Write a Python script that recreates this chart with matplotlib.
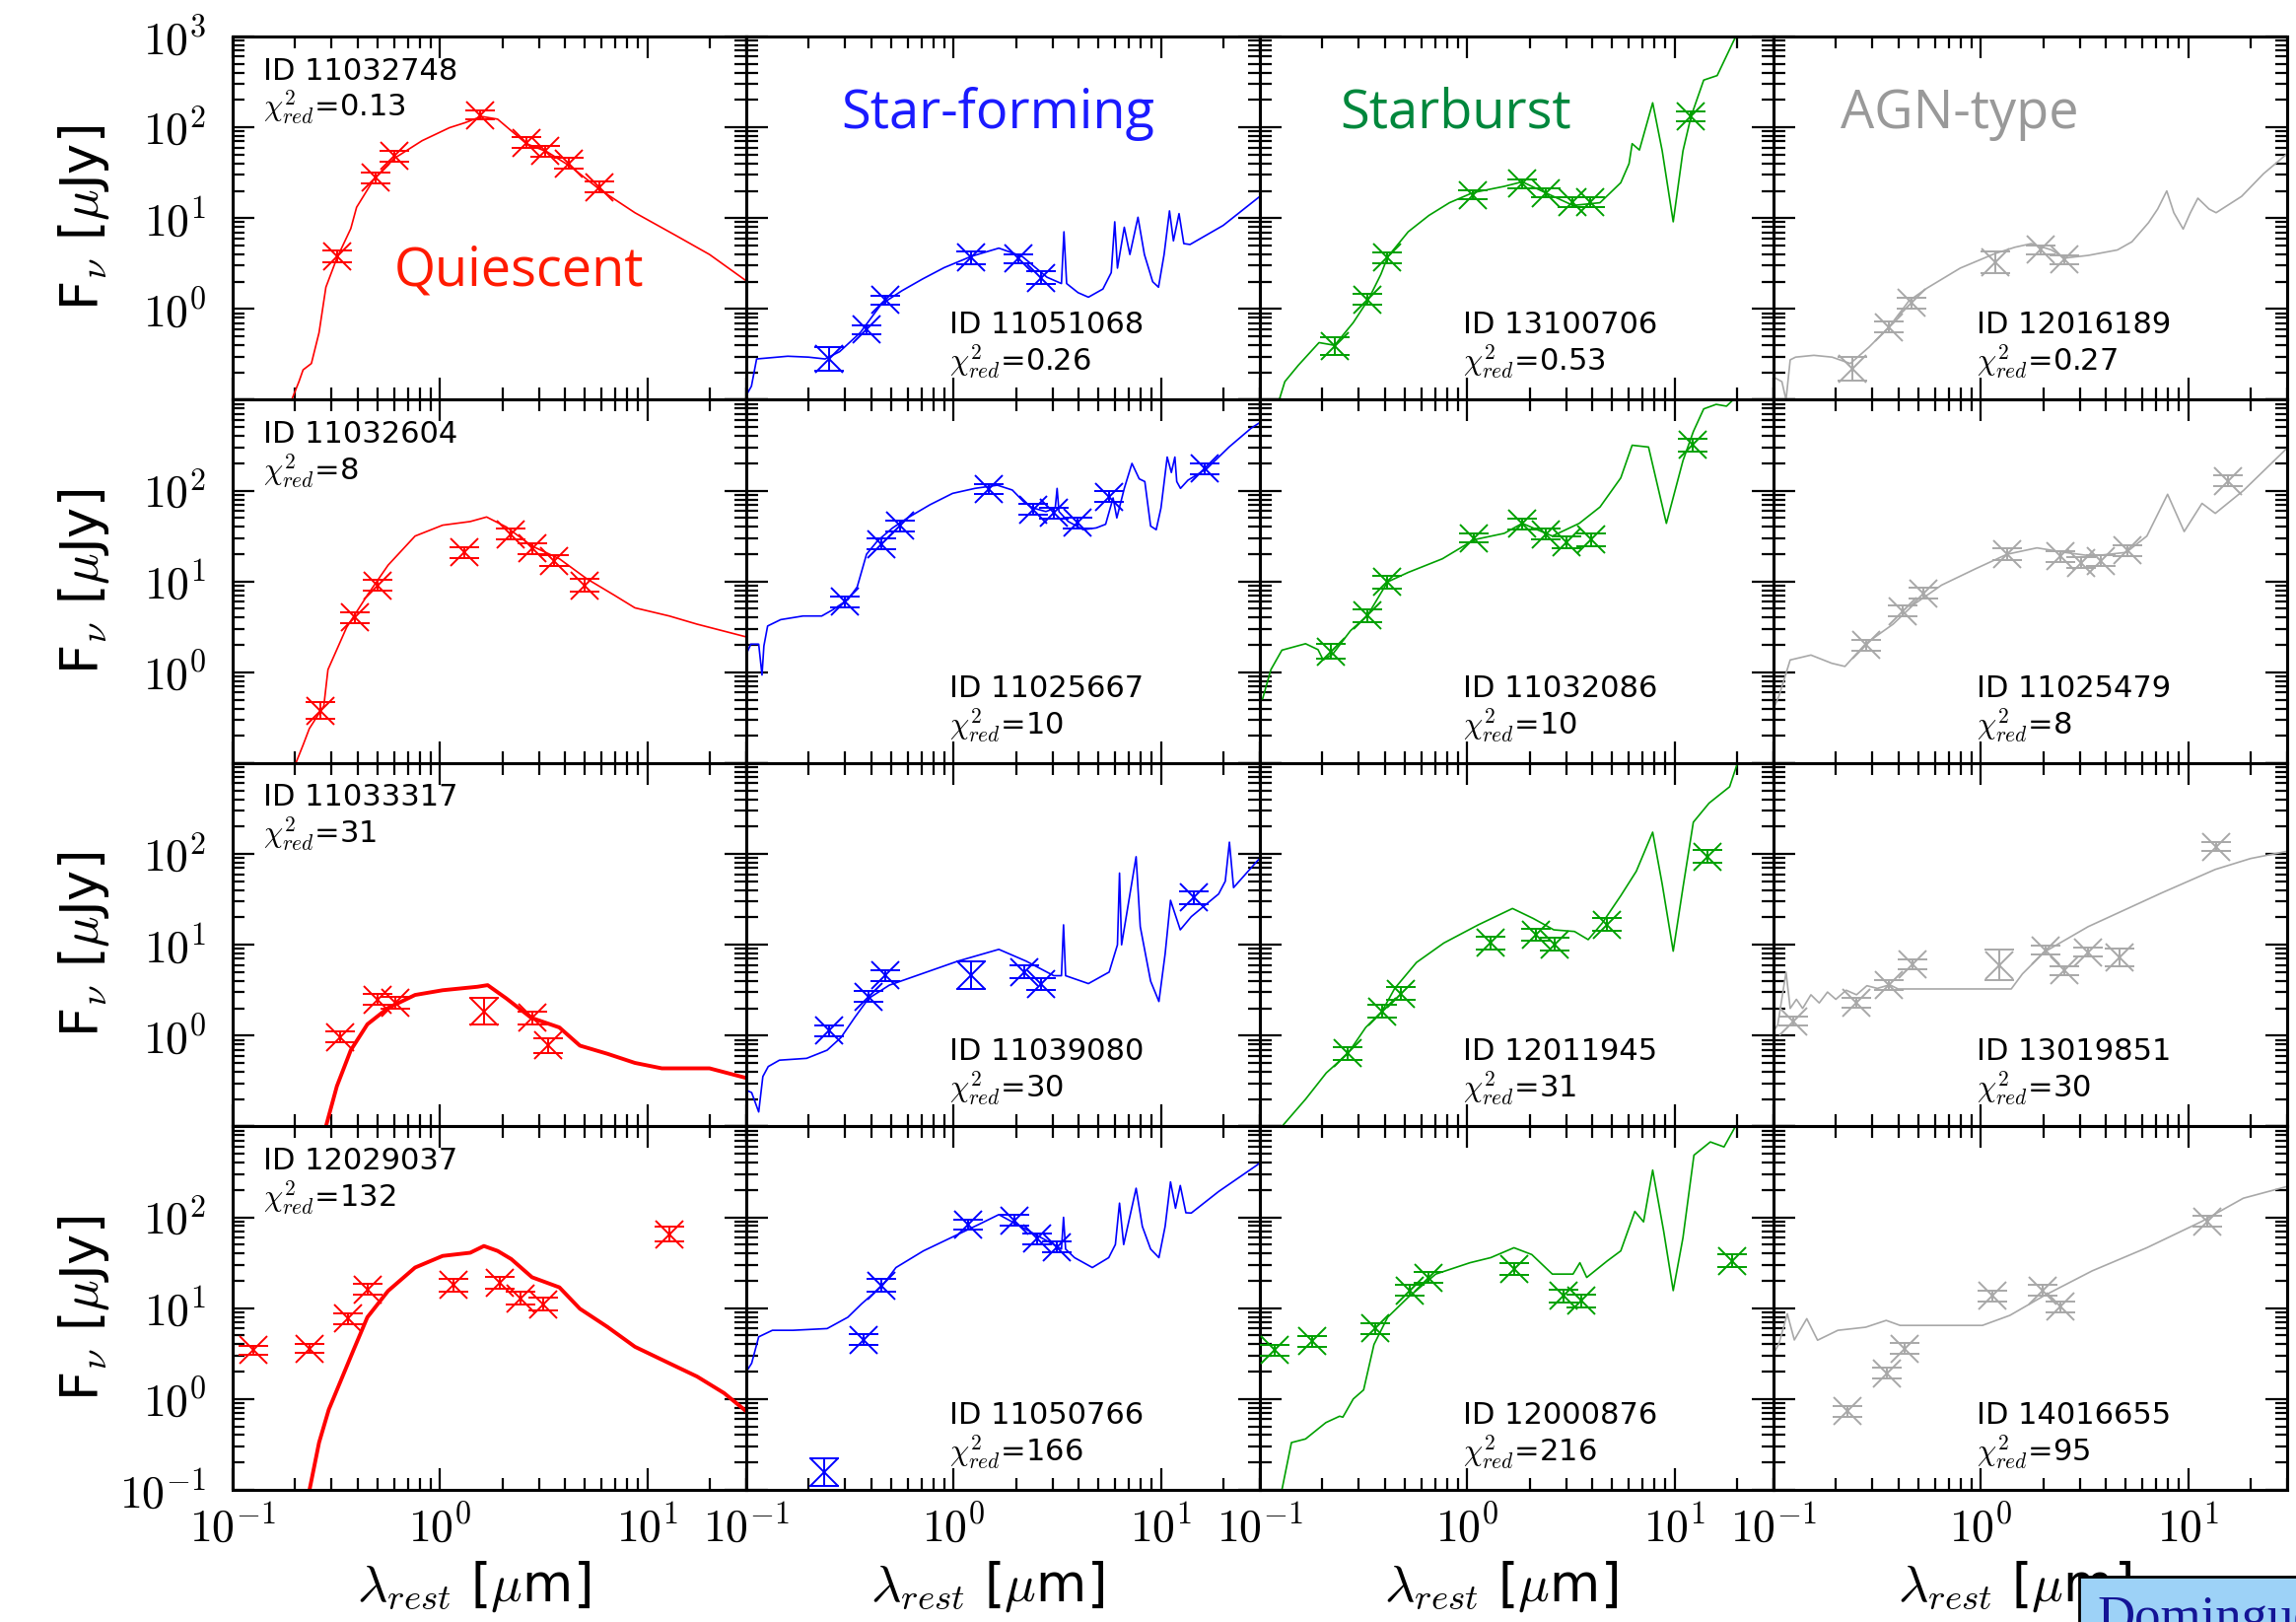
#!/usr/bin/env python3
"""
4x4 grid of template SED fits (quiescent / star-forming / starburst / AGN-type).
"""

import matplotlib
matplotlib.use("Agg")
import matplotlib.pyplot as plt
import numpy as np
from matplotlib.ticker import FixedLocator, FuncFormatter

plt.rcParams["font.family"] = ["DejaVu Sans"]
plt.rcParams["mathtext.fontset"] = "cm"

# ---------------------------------------------------------------------------
# Data. Model curves are (log10 lambda [um], log10 F [uJy])
# pairs; photometry is lambda [um], F [uJy] and error in dex.
# ---------------------------------------------------------------------------

# Row 1
q1_model = [(-0.715, -1.0), (-0.68, -0.8), (-0.66, -0.67), (-0.62, -0.6), (-0.583, -0.26),
            (-0.55, 0.24), (-0.497, 0.56), (-0.43, 0.885), (-0.402, 1.12), (-0.318, 1.43),
            (-0.219, 1.66), (-0.086, 1.853), (0.046, 1.996), (0.12, 2.05), (0.2, 2.12),
            (0.278, 2.09), (0.417, 1.82), (0.517, 1.73), (0.629, 1.57), (0.768, 1.32),
            (0.94, 1.06), (1.137, 0.81), (1.30, 0.6), (1.477, 0.31)]
q1_lam = [0.32, 0.49, 0.60, 1.57, 2.6, 3.2, 4.2, 5.9]
q1_flux = [3.8, 28, 48, 137, 68, 55, 40, 22]
q1_err = [0.07, 0.06, 0.06, 0.05, 0.06, 0.06, 0.06, 0.06]

sf1_model = [(-1.0, -0.95), (-0.975, -0.85), (-0.95, -0.55), (-0.9, -0.54), (-0.8, -0.52),
             (-0.7, -0.53), (-0.62, -0.55), (-0.55, -0.47), (-0.45, -0.26), (-0.35, 0.05),
             (-0.25, 0.2), (-0.15, 0.33), (-0.046, 0.455), (0.086, 0.58), (0.218, 0.67),
             (0.33, 0.58), (0.45, 0.35), (0.52, 0.28), (0.532, 0.85), (0.545, 0.28),
             (0.6, 0.18), (0.65, 0.13), (0.72, 0.22), (0.76, 0.4), (0.777, 0.96), (0.79, 0.45),
             (0.823, 0.9), (0.85, 0.6), (0.889, 1.01), (0.92, 0.6), (0.96, 0.3), (0.988, 0.24),
             (1.015, 0.6), (1.041, 1.08), (1.06, 0.75), (1.087, 1.05), (1.11, 0.72),
             (1.14, 0.71), (1.3, 0.92), (1.477, 1.24)]
sf1_lam = [0.25, 0.38, 0.47, 1.22, 2.05, 2.65]
sf1_flux = [0.28, 0.59, 1.25, 3.66, 3.6, 2.2]
sf1_err = [0.13, 0.05, 0.05, 0.07, 0.05, 0.07]

sb1_model = [(-0.907, -1.0), (-0.88, -0.8), (-0.815, -0.62), (-0.715, -0.37), (-0.64, -0.40),
             (-0.55, -0.15), (-0.477, 0.104), (-0.417, 0.38), (-0.384, 0.573), (-0.285, 0.85),
             (-0.185, 1.03), (-0.086, 1.17), (0.026, 1.28), (0.178, 1.35), (0.265, 1.40),
             (0.377, 1.28), (0.51, 1.14), (0.64, 1.17), (0.74, 1.39), (0.78, 1.6), (0.795, 1.82),
             (0.83, 1.75), (0.894, 2.27), (0.94, 1.74), (0.993, 0.96), (1.04, 1.74),
             (1.079, 2.12), (1.14, 2.52), (1.205, 2.57), (1.305, 3.05)]
sb1_lam = [0.23, 0.33, 0.41, 1.06, 1.84, 2.4, 3.2, 3.9, 12.0]
sb1_flux = [0.39, 1.27, 3.7, 18, 24, 19, 15, 15, 132]
sb1_err = [0.1, 0.06, 0.06, 0.05, 0.05, 0.05, 0.05, 0.05, 0.05]

agn1_model = [(-1.0, -0.75), (-0.96, -0.8), (-0.94, -1.0), (-0.92, -0.56), (-0.894, -0.53),
              (-0.806, -0.51), (-0.718, -0.53), (-0.63, -0.6), (-0.54, -0.42), (-0.444, -0.2),
              (-0.347, 0.09), (-0.26, 0.23), (-0.1, 0.45), (0.067, 0.61), (0.164, 0.68),
              (0.243, 0.72), (0.34, 0.65), (0.402, 0.56), (0.517, 0.59), (0.658, 0.65),
              (0.728, 0.74), (0.808, 0.95), (0.852, 1.1), (0.896, 1.3), (0.93, 1.06),
              (0.975, 0.88), (1.01, 1.06), (1.046, 1.22), (1.1, 1.1), (1.134, 1.06),
              (1.257, 1.24), (1.363, 1.49), (1.477, 1.71)]
agn1_lam = [0.24, 0.36, 0.46, 1.17, 1.94, 2.52]
agn1_flux = [0.22, 0.63, 1.17, 3.3, 4.5, 3.5]
agn1_err = [0.13, 0.06, 0.06, 0.12, 0.05, 0.05]

# Row 2
q2_model = [(-0.695, -1.0), (-0.66, -0.8), (-0.63, -0.62), (-0.56, -0.37), (-0.54, 0.03),
            (-0.45, 0.495), (-0.35, 0.85), (-0.25, 1.18), (-0.12, 1.5), (0.013, 1.62),
            (0.146, 1.66), (0.225, 1.71), (0.32, 1.6), (0.444, 1.39), (0.576, 1.25),
            (0.708, 1.03), (0.84, 0.85), (0.94, 0.71), (1.106, 0.62), (1.24, 0.53),
            (1.477, 0.39)]
q2_lam = [0.265, 0.39, 0.50, 1.31, 2.2, 2.78, 3.55, 4.96]
q2_flux = [0.38, 4.0, 9.1, 21, 33, 23, 17, 9.1]
q2_err = [0.09, 0.06, 0.06, 0.06, 0.06, 0.06, 0.06, 0.07]

sf2_model = [(-1.0, 0.2), (-0.978, 0.31), (-0.94, 0.31), (-0.924, -0.03), (-0.915, 0.29),
             (-0.897, 0.51), (-0.834, 0.58), (-0.726, 0.62), (-0.636, 0.62), (-0.582, 0.69),
             (-0.51, 0.8), (-0.465, 0.94), (-0.42, 1.3), (-0.366, 1.45), (-0.294, 1.59),
             (-0.222, 1.7), (-0.114, 1.845), (-0.005, 1.97), (0.103, 2.025), (0.211, 2.06),
             (0.283, 2.007), (0.337, 1.88), (0.382, 1.81), (0.445, 1.77), (0.49, 1.81),
             (0.499, 2.025), (0.508, 1.77), (0.553, 1.66), (0.625, 1.57), (0.688, 1.59),
             (0.733, 1.63), (0.769, 1.92), (0.787, 1.7), (0.823, 2.025), (0.86, 2.3),
             (0.895, 2.13), (0.922, 2.1), (0.95, 1.61), (0.977, 1.57), (1.0, 1.81),
             (1.03, 2.37), (1.05, 2.2), (1.067, 2.37), (1.076, 2.1), (1.094, 2.025),
             (1.13, 2.115), (1.22, 2.24), (1.328, 2.48), (1.436, 2.69), (1.477, 2.75)]
sf2_lam = [0.30, 0.45, 0.55, 1.47, 2.41, 3.03, 3.96, 5.64, 16.2]
sf2_flux = [6.0, 25.7, 41, 104, 62, 57, 44, 86, 174]
sf2_err = [0.06, 0.06, 0.06, 0.05, 0.06, 0.06, 0.06, 0.06, 0.06]

sb2_model = [(-1.0, -0.3), (-0.987, -0.29), (-0.947, 0.03), (-0.894, 0.244), (-0.78, 0.315),
             (-0.72, 0.25), (-0.695, 0.136), (-0.649, 0.2), (-0.563, 0.459), (-0.483, 0.62),
             (-0.384, 0.996), (-0.285, 1.1), (-0.12, 1.25), (0.033, 1.46), (0.178, 1.53),
             (0.265, 1.64), (0.41, 1.5), (0.54, 1.64), (0.64, 1.82), (0.74, 2.14),
             (0.795, 2.5), (0.874, 2.48), (0.96, 1.64), (1.04, 2.33), (1.09, 2.65),
             (1.14, 2.9), (1.2, 2.95), (1.25, 2.93), (1.305, 3.05)]
sb2_lam = [0.22, 0.33, 0.41, 1.08, 1.84, 2.38, 3.0, 3.95, 12.2]
sb2_flux = [1.7, 4.2, 9.9, 30, 43, 33, 27, 29, 318]
sb2_err = [0.08, 0.07, 0.07, 0.05, 0.06, 0.06, 0.06, 0.07, 0.07]

agn2_model = [(-1.0, -0.4), (-0.974, -0.26), (-0.92, 0.136), (-0.82, 0.19), (-0.72, 0.1),
              (-0.656, 0.065), (-0.556, 0.315), (-0.424, 0.53), (-0.325, 0.745),
              (-0.19, 0.96), (-0.026, 1.14), (0.126, 1.30), (0.27, 1.37), (0.404, 1.32),
              (0.536, 1.28), (0.7, 1.32), (0.8, 1.5), (0.9, 1.96), (0.98, 1.55),
              (1.066, 1.86), (1.13, 1.75), (1.265, 2.0), (1.477, 2.47)]
agn2_lam = [0.28, 0.42, 0.53, 1.34, 2.42, 3.04, 3.77, 5.1, 15.6]
agn2_flux = [2.0, 4.7, 7.4, 20, 19, 16, 17, 22, 128]
agn2_err = [0.06, 0.06, 0.06, 0.06, 0.06, 0.06, 0.06, 0.06, 0.06]

# Row 3
q3_model = [(-0.55, -1.0), (-0.497, -0.556), (-0.43, -0.16), (-0.35, 0.125), (-0.25, 0.305),
            (-0.12, 0.448), (0.013, 0.5), (0.18, 0.538), (0.23, 0.556), (0.32, 0.41),
            (0.44, 0.197), (0.576, 0.09), (0.675, -0.11), (0.808, -0.2), (0.94, -0.3),
            (1.07, -0.36), (1.3, -0.36), (1.477, -0.466)]
q3_lam = [0.33, 0.5, 0.61, 1.63, 2.78, 3.34]
q3_flux = [0.97, 2.5, 2.3, 1.86, 1.57, 0.78]
q3_err = [0.06, 0.06, 0.06, 0.15, 0.07, 0.08]

sf3_model = [(-1.0, -0.6), (-0.974, -0.627), (-0.94, -0.84), (-0.92, -0.45), (-0.894, -0.34),
             (-0.84, -0.27), (-0.709, -0.25), (-0.61, -0.16), (-0.543, -0.02), (-0.477, 0.2),
             (-0.41, 0.41), (-0.31, 0.556), (-0.18, 0.66), (0.02, 0.82), (0.218, 0.95),
             (0.35, 0.82), (0.483, 0.66), (0.52, 0.66), (0.53, 1.22), (0.54, 0.66),
             (0.65, 0.573), (0.75, 0.7), (0.79, 1.0), (0.8, 1.79), (0.81, 1.0), (0.88, 1.97),
             (0.9, 1.2), (0.95, 0.6), (0.99, 0.376), (1.02, 0.9), (1.046, 1.49),
             (1.093, 1.165), (1.146, 1.31), (1.278, 1.56), (1.31, 1.7), (1.33, 2.13),
             (1.35, 1.63), (1.463, 1.92), (1.477, 1.95)]
sf3_lam = [0.25, 0.39, 0.47, 1.22, 2.18, 2.65, 14.4]
sf3_flux = [1.13, 2.7, 4.6, 4.6, 5.0, 3.7, 33]
sf3_err = [0.06, 0.06, 0.06, 0.15, 0.07, 0.07, 0.07]

sb3_model = [(-0.894, -1.0), (-0.78, -0.7), (-0.68, -0.41), (-0.576, -0.197), (-0.49, 0.09),
             (-0.411, 0.269), (-0.35, 0.52), (-0.245, 0.806), (-0.113, 1.02), (0.053, 1.22),
             (0.218, 1.4), (0.318, 1.29), (0.417, 1.165), (0.517, 1.147), (0.583, 1.057),
             (0.65, 1.237), (0.74, 1.54), (0.815, 1.81), (0.894, 2.24), (0.94, 1.667),
             (0.993, 0.93), (1.04, 1.63), (1.09, 2.35), (1.166, 2.56), (1.265, 2.74),
             (1.31, 3.05)]
sb3_lam = [0.265, 0.39, 0.48, 1.3, 2.14, 2.65, 4.73, 14.4]
sb3_flux = [0.64, 1.86, 2.9, 10.5, 12.9, 10.1, 16.6, 94]
sb3_err = [0.07, 0.07, 0.07, 0.07, 0.07, 0.07, 0.07, 0.07]

agn3_model = [(-1.0, 0.05), (-0.98, 0.12), (-0.94, 0.7), (-0.92, 0.3), (-0.89, 0.4),
              (-0.86, 0.3), (-0.82, 0.45), (-0.78, 0.36), (-0.74, 0.48), (-0.7, 0.4),
              (-0.65, 0.5), (-0.6, 0.45), (-0.55, 0.55), (-0.5, 0.52), (-0.44, 0.56),
              (-0.4, 0.514), (0.146, 0.514), (0.2, 0.68), (0.305, 0.92), (0.517, 1.2),
              (0.87, 1.57), (1.13, 1.83), (1.3, 1.95), (1.477, 2.03)]
agn3_lam = [0.125, 0.25, 0.36, 0.47, 1.22, 2.06, 2.52, 3.29, 4.65, 13.6]
agn3_flux = [1.44, 2.3, 3.6, 6.1, 6.0, 8.7, 5.2, 8.3, 7.3, 120]
agn3_err = [0.05, 0.05, 0.05, 0.05, 0.17, 0.05, 0.05, 0.05, 0.1, 0.05]

# Row 4
q4_model = [(-0.629, -1.0), (-0.583, -0.48), (-0.536, -0.116), (-0.483, 0.175),
            (-0.417, 0.538), (-0.35, 0.9), (-0.25, 1.19), (-0.12, 1.447), (0.013, 1.575),
            (0.146, 1.61), (0.212, 1.684), (0.278, 1.63), (0.344, 1.54), (0.444, 1.34),
            (0.576, 1.229), (0.675, 0.993), (0.808, 0.793), (0.94, 0.575), (1.106, 0.393),
            (1.24, 0.247), (1.37, 0.065), (1.477, -0.135)]
q4_lam = [0.126, 0.235, 0.36, 0.45, 1.16, 1.95, 2.45, 3.14, 12.8]
q4_flux = [3.45, 3.6, 7.7, 16, 18, 19, 12.9, 11.1, 65]
q4_err = [0.05, 0.05, 0.06, 0.06, 0.07, 0.07, 0.07, 0.07, 0.08]

sf4_model = [(-1.0, 0.3), (-0.974, 0.393), (-0.94, 0.684), (-0.874, 0.756), (-0.775, 0.756),
             (-0.61, 0.775), (-0.51, 0.9), (-0.444, 1.047), (-0.344, 1.247), (-0.278, 1.447),
             (-0.146, 1.63), (-0.013, 1.775), (0.12, 1.92), (0.218, 2.03), (0.351, 1.865),
             (0.483, 1.7), (0.52, 1.65), (0.53, 2.0), (0.54, 1.65), (0.583, 1.556),
             (0.669, 1.447), (0.748, 1.556), (0.78, 1.7), (0.8, 2.156), (0.82, 1.7),
             (0.88, 2.32), (0.91, 1.9), (0.95, 1.65), (0.99, 1.556), (1.02, 1.9),
             (1.046, 2.39), (1.07, 2.1), (1.093, 2.35), (1.12, 2.05), (1.146, 2.047),
             (1.278, 2.284), (1.463, 2.575), (1.477, 2.6)]
sf4_lam = [0.238, 0.366, 0.45, 1.18, 1.96, 2.53, 3.14]
sf4_flux = [0.156, 4.5, 17.7, 83, 92, 58, 47]
sf4_err = [0.15, 0.06, 0.07, 0.05, 0.06, 0.06, 0.06]

sb4_model = [(-0.894, -1.0), (-0.848, -0.48), (-0.78, -0.44), (-0.682, -0.26),
             (-0.616, -0.19), (-0.6, -0.2), (-0.55, 0.0), (-0.5, 0.1), (-0.45, 0.6),
             (-0.384, 0.9), (-0.285, 1.12), (-0.152, 1.375), (0.013, 1.5), (0.113, 1.556),
             (0.225, 1.665), (0.311, 1.59), (0.41, 1.375), (0.51, 1.375), (0.543, 1.5),
             (0.576, 1.338), (0.675, 1.52), (0.74, 1.63), (0.808, 2.065), (0.85, 1.95),
             (0.894, 2.52), (0.947, 1.847), (0.993, 1.193), (1.04, 1.775), (1.093, 2.684),
             (1.172, 2.83), (1.238, 2.775), (1.305, 3.05)]
sb4_lam = [0.118, 0.179, 0.36, 0.53, 0.65, 1.68, 2.9, 3.55, 19]
sb4_flux = [3.45, 4.3, 6.0, 15.6, 21.8, 27, 13.7, 12.1, 33]
sb4_err = [0.06, 0.06, 0.06, 0.06, 0.06, 0.07, 0.07, 0.07, 0.07]

agn4_model = [(-1.0, 0.5), (-0.974, 0.61), (-0.934, 0.938), (-0.9, 0.65), (-0.84, 0.884),
              (-0.788, 0.647), (-0.69, 0.756), (-0.556, 0.79), (-0.457, 0.865),
              (-0.39, 0.81), (-0.258, 0.81), (0.007, 0.81), (0.139, 0.92), (0.305, 1.138),
              (0.536, 1.41), (0.8, 1.665), (1.066, 1.956), (1.265, 2.21), (1.477, 2.34)]
agn4_lam = [0.228, 0.35, 0.43, 1.13, 1.99, 2.42, 12.4]
agn4_flux = [0.73, 1.92, 3.6, 13.7, 15.6, 10.4, 90]
agn4_err = [0.06, 0.06, 0.06, 0.06, 0.06, 0.06, 0.06]

# Labels
q_ids = ["11032748", "11032604", "11033317", "12029037"]
q_chi = ["0.13", "8", "31", "132"]
sf_ids = ["11051068", "11025667", "11039080", "11050766"]
sf_chi = ["0.26", "10", "30", "166"]
sb_ids = ["13100706", "11032086", "12011945", "12000876"]
sb_chi = ["0.53", "10", "31", "216"]
agn_ids = ["12016189", "11025479", "13019851", "14016655"]
agn_chi = ["0.27", "8", "30", "95"]

class_names = ["Quiescent", "Star-forming", "Starburst", "AGN-type"]


def make_chart():
    # grid[row][col] = (model, lam, flux, err)
    grid = [
        [(q1_model, q1_lam, q1_flux, q1_err), (sf1_model, sf1_lam, sf1_flux, sf1_err),
         (sb1_model, sb1_lam, sb1_flux, sb1_err), (agn1_model, agn1_lam, agn1_flux, agn1_err)],
        [(q2_model, q2_lam, q2_flux, q2_err), (sf2_model, sf2_lam, sf2_flux, sf2_err),
         (sb2_model, sb2_lam, sb2_flux, sb2_err), (agn2_model, agn2_lam, agn2_flux, agn2_err)],
        [(q3_model, q3_lam, q3_flux, q3_err), (sf3_model, sf3_lam, sf3_flux, sf3_err),
         (sb3_model, sb3_lam, sb3_flux, sb3_err), (agn3_model, agn3_lam, agn3_flux, agn3_err)],
        [(q4_model, q4_lam, q4_flux, q4_err), (sf4_model, sf4_lam, sf4_flux, sf4_err),
         (sb4_model, sb4_lam, sb4_flux, sb4_err), (agn4_model, agn4_lam, agn4_flux, agn4_err)],
    ]
    ids = [q_ids, sf_ids, sb_ids, agn_ids]
    chis = [q_chi, sf_chi, sb_chi, agn_chi]

    line_colors = ["#ff0000", "#0000ff", "#00a000", "#a8a8a8"]
    q_lw = [1.2, 1.2, 2.8, 2.8]

    fig, axes = plt.subplots(4, 4, figsize=(23.29, 16.45), dpi=100)
    fig.subplots_adjust(left=0.1013, right=0.9962, top=0.9775, bottom=0.0815,
                        wspace=0, hspace=0)

    for r in range(4):
        for c in range(4):
            ax = axes[r, c]
            model, lam, flux, err = grid[r][c]
            col = line_colors[c]

            m = np.array(model)
            lw = q_lw[r] if c == 0 else 1.2
            ax.plot(10 ** m[:, 0], 10 ** m[:, 1], color=col, lw=lw, zorder=2)

            flux = np.array(flux, dtype=float)
            err = np.array(err, dtype=float)
            yerr = [flux * (1 - 10 ** -err), flux * (10 ** err - 1)]
            ax.errorbar(lam, flux, yerr=yerr, fmt="x", color=col, ms=20, mew=1.4,
                        elinewidth=1.4, capsize=11, capthick=1.4, zorder=3)

            ax.set_xscale("log")
            ax.set_yscale("log")
            ax.set_xlim(0.1, 30)
            ax.set_ylim(0.1, 1000)

            ax.xaxis.set_major_locator(FixedLocator([0.1, 1, 10]))
            ax.xaxis.set_minor_locator(FixedLocator(
                [k * 0.1 for k in range(2, 10)] + list(range(2, 10)) + [20, 30]))
            ax.yaxis.set_major_locator(FixedLocator([0.1, 1, 10, 100, 1000]))
            ax.yaxis.set_minor_locator(FixedLocator(
                [k * 10.0 ** d for d in range(-1, 3) for k in range(2, 10)]))

            if r == 3:
                ax.xaxis.set_major_formatter(FuncFormatter(
                    lambda v, p: r"$10^{%d}$" % round(np.log10(v))))
            else:
                ax.xaxis.set_major_formatter(FuncFormatter(lambda v, p: ""))
            ax.xaxis.set_minor_formatter(FuncFormatter(lambda v, p: ""))

            if c == 0:
                shown = {0: [3, 2, 1, 0], 1: [2, 1, 0], 2: [2, 1, 0], 3: [2, 1, 0, -1]}[r]
                ax.yaxis.set_major_formatter(FuncFormatter(
                    lambda v, p, s=shown: r"$10^{%d}$" % round(np.log10(v))
                    if round(np.log10(v)) in s else ""))
            else:
                ax.yaxis.set_major_formatter(FuncFormatter(lambda v, p: ""))
            ax.yaxis.set_minor_formatter(FuncFormatter(lambda v, p: ""))

            ax.tick_params(which="both", direction="in", top=True, right=True,
                           width=1.6, colors="black")
            ax.tick_params(which="major", length=16)
            ax.tick_params(which="minor", length=8.5)
            ax.tick_params(axis="y", which="major", labelsize=33, pad=19)
            ax.tick_params(axis="x", which="major", labelsize=33, pad=12)
            for sp in ax.spines.values():
                sp.set_linewidth(2.2)

            # ID and chi^2 annotations
            if c == 0:
                ax.text(0.06, 0.905, "ID " + ids[c][r], transform=ax.transAxes,
                        fontsize=22, ha="left", va="center")
                ax.text(0.06, 0.805, r"$\chi^2_{red}$=" + chis[c][r], transform=ax.transAxes,
                        fontsize=22, ha="left", va="center")
            else:
                ax.text(0.395, 0.205, "ID " + ids[c][r], transform=ax.transAxes,
                        fontsize=22, ha="left", va="center")
                ax.text(0.395, 0.105, r"$\chi^2_{red}$=" + chis[c][r], transform=ax.transAxes,
                        fontsize=22, ha="left", va="center")

            if c == 0:
                ax.set_ylabel(r"F$_\nu$ [$\mu$Jy]", fontsize=38)
                ax.yaxis.set_label_coords(-0.235, 0.5)
            if r == 3:
                ax.set_xlabel(r"$\lambda_{rest}$ [$\mu$m]", fontsize=38)
                ax.xaxis.set_label_coords(0.47, -0.19)

    # Class labels in the top row
    axes[0, 0].text(0.315, 0.316, class_names[0], transform=axes[0, 0].transAxes,
                    fontsize=39, family="Open Sans", color="#ff1a00", va="baseline")
    axes[0, 1].text(0.184, 0.749, class_names[1], transform=axes[0, 1].transAxes,
                    fontsize=39, family="Open Sans", color="#1a1aff", va="baseline")
    axes[0, 2].text(0.155, 0.749, class_names[2], transform=axes[0, 2].transAxes,
                    fontsize=39, family="Open Sans", color="#00873c", va="baseline")
    axes[0, 3].text(0.131, 0.749, class_names[3], transform=axes[0, 3].transAxes,
                    fontsize=39, family="Open Sans", color="#999999", va="baseline")

    # Link box in the bottom-right corner (cut by the page edge, as in the source)
    fig.text(0.9135, -0.006, "Dominguez", fontsize=38, family="Liberation Serif",
             color="#141496", ha="left", va="baseline",
             bbox=dict(boxstyle="square,pad=0.35", facecolor="#9dd2f7",
                       edgecolor="black", linewidth=2))

    fig.savefig("out.png", dpi=100, facecolor="white")
    plt.close(fig)


if __name__ == "__main__":
    make_chart()
